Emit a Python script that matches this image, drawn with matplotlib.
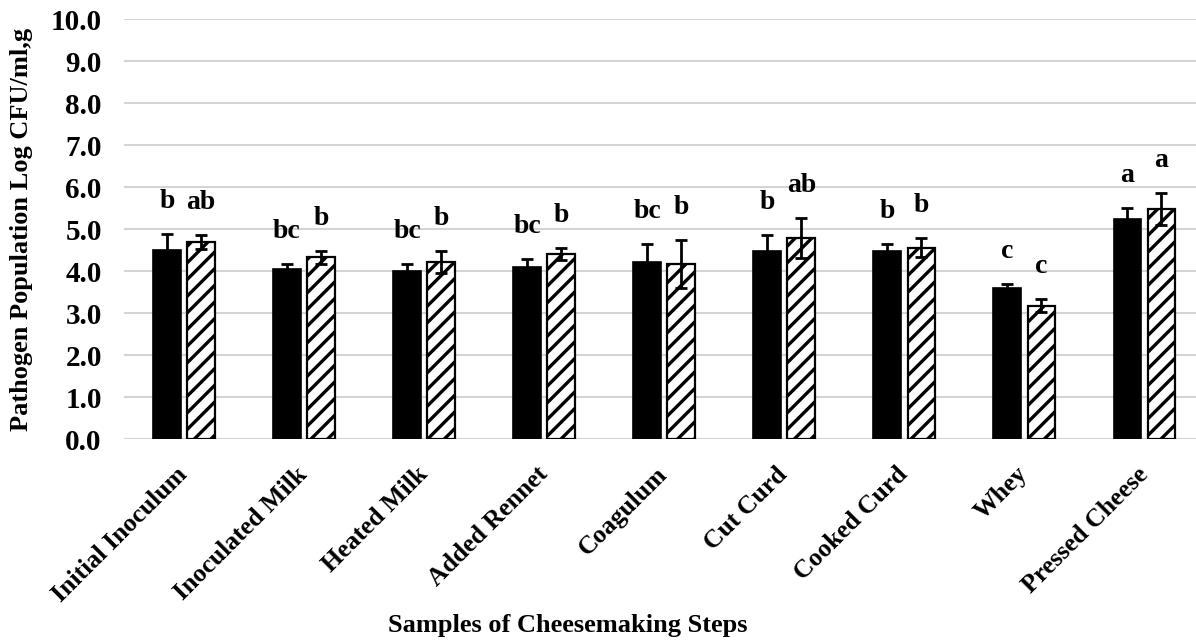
import numpy as np
import matplotlib.pyplot as plt
import matplotlib.transforms as mtransforms

plt.rcParams['font.family'] = ['Liberation Serif', 'DejaVu Serif']
plt.rcParams['font.weight'] = 'bold'
plt.rcParams['hatch.linewidth'] = 2.4

steps = ["Initial Inoculum", "Inoculated Milk", "Heated Milk", "Added Rennet",
         "Coagulum", "Cut Curd", "Cooked Curd", "Whey", "Pressed Cheese"]

# mean log counts and standard deviations for the two series
solid_mean = [4.50, 4.05, 4.01, 4.10, 4.21, 4.48, 4.48, 3.60, 5.25]
solid_sd = [0.38, 0.12, 0.16, 0.19, 0.44, 0.38, 0.17, 0.10, 0.26]
hatch_mean = [4.69, 4.33, 4.22, 4.41, 4.17, 4.79, 4.56, 3.18, 5.49]
hatch_sd = [0.16, 0.15, 0.26, 0.14, 0.58, 0.47, 0.23, 0.16, 0.38]

solid_letters = ["b", "bc", "bc", "bc", "bc", "b", "b", "c", "a"]
hatch_letters = ["ab", "b", "b", "b", "b", "ab", "b", "c", "a"]

fig = plt.figure(figsize=(11.96, 6.4), dpi=100)
ax = fig.add_axes([0.1037, 0.314, 0.8963, 0.656])

x = np.arange(len(steps))
w = 0.23
off = 0.142
err_kw = dict(ecolor='black', elinewidth=2.0, capsize=4, capthick=2.0)

ax.bar(x - off, solid_mean, w, yerr=solid_sd, color='black',
       edgecolor='black', linewidth=1.2, error_kw=err_kw, zorder=3)
ax.bar(x + off, hatch_mean, w, yerr=hatch_sd, color='white',
       edgecolor='black', hatch='//', linewidth=1.6, error_kw=err_kw, zorder=3)

# significance letters above each error bar
for i in range(len(steps)):
    ax.text(x[i] - off, solid_mean[i] + solid_sd[i] + 0.62, solid_letters[i],
            ha='center', va='baseline', fontsize=20, fontweight='bold')
    ax.text(x[i] + off, hatch_mean[i] + hatch_sd[i] + 0.62, hatch_letters[i],
            ha='center', va='baseline', fontsize=20, fontweight='bold')

ax.set_ylim(0, 10)
ax.set_xlim(-0.5, 8.43)
ax.set_yticks(np.arange(0, 10.1, 1.0))
ax.set_yticklabels([f"{v:.1f}" for v in np.arange(0, 10.1, 1.0)],
                   fontsize=21, fontweight='bold')
ax.yaxis.grid(True, color='#d4d4d4', linewidth=1.5, zorder=0)
ax.set_axisbelow(True)
for s in ax.spines.values():
    s.set_visible(False)
ax.tick_params(axis='y', length=0, pad=16)
ax.tick_params(axis='x', length=0, pad=17)

ax.set_xticks(x)
ax.set_xticklabels(steps, rotation=45, ha='right', rotation_mode='anchor',
                   fontsize=18.5, fontweight='bold')
shift = mtransforms.ScaledTranslation(-6 / 72, 0, fig.dpi_scale_trans)
for lab in ax.get_xticklabels():
    lab.set_transform(lab.get_transform() + shift)

ax.set_ylabel("Pathogen Population Log CFU/ml,g", fontsize=19, fontweight='bold')
ax.yaxis.set_label_coords(-0.085, 0.5)
ax.set_xlabel("Samples of Cheesemaking Steps", fontsize=19, fontweight='bold',
              va='baseline')
ax.xaxis.set_label_coords(0.414, -0.46)

fig.savefig("out.png", dpi=100)
